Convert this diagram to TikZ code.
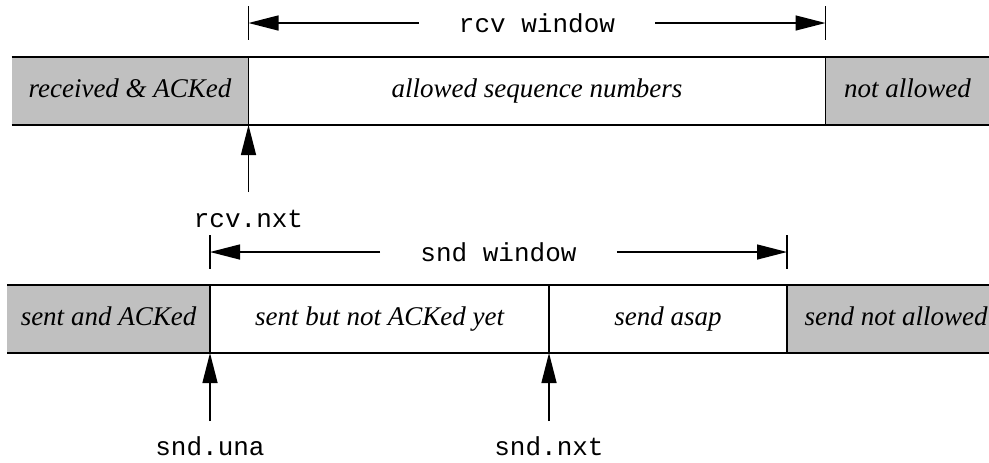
\documentclass[tikz,border=0pt]{standalone}
\usepackage{fontspec}
\setmainfont{Liberation Serif}
\setmonofont{Liberation Mono}
\usetikzlibrary{arrows.meta}
\usetikzlibrary{positioning}
\usetikzlibrary{calc}
\definecolor{acked}{RGB}{192,192,192}
\tikzset{
  cell/.style={minimum height=34pt, inner sep=0pt, outer sep=0pt, text height=0.75em, text depth=0.1em, font=\fontsize{13.5}{16}\selectfont\itshape},
  seen/.style={cell, fill=acked},
  bar/.style={line width=0.8pt},
  span/.style={-{Triangle[length=15pt,width=7.5pt]}, line width=0.7pt},
  seq/.style={font=\fontsize{13}{15}\selectfont\ttfamily},
}

\begin{document}
\begin{tikzpicture}[x=0.5pt, y=-0.5pt]
\useasboundingbox (0,0) rectangle (989,462);
% receiver
\node[seen, minimum width=118.5pt, anchor=west] (recv) at (11.5, 91) {received \& ACKed};
\node[cell, minimum width=288.5pt, right=0pt of recv] (allow) {allowed sequence numbers};
\node[seen, minimum width=82pt, right=0pt of allow] (nallow) {not allowed};
\draw[bar] (recv.north west) -- (nallow.north east) (recv.south west) -- (nallow.south east);
\draw[bar] (recv.north east) -- (recv.south east) (allow.north east) -- (allow.south east);
\path (recv.north east) ++(0,-34) coordinate (rw1);
\path (allow.north east) ++(0,-34) coordinate (rw2);
\draw[bar] (rw1) ++(0,-17) -- ++(0,34);
\draw[bar] (rw2) ++(0,-17) -- ++(0,34);
\node[seq, inner xsep=20pt] (rwin) at ($(rw1)!0.5!(rw2)$) {rcv window};
\draw[span] (rwin.west) -- (rw1);
\draw[span] (rwin.east) -- (rw2);
\path (recv.south east) ++(0,67) coordinate (rnxt);
\node[seq, anchor=base] (rnxtlbl) at ($(recv.south east)+(0,102)$) {rcv.nxt};
\draw[span] (rnxt) -- (recv.south east);
% sender
\node[seen, minimum width=101.5pt, anchor=west] (sack) at (7, 319) {sent and ACKed};
\node[cell, minimum width=169.5pt, right=0pt of sack] (sent) {sent but not ACKed yet};
\node[cell, minimum width=119pt, right=0pt of sent] (asap) {send asap};
\node[seen, minimum width=109pt, right=0pt of asap] (nsend) {send not allowed};
\draw[bar] (sack.north west) -- (nsend.north east) (sack.south west) -- (nsend.south east);
\draw[bar] (sack.north east) -- (sack.south east) (sent.north east) -- (sent.south east) (asap.north east) -- (asap.south east);
\path (sack.north east) ++(0,-33) coordinate (sw1);
\path (asap.north east) ++(0,-33) coordinate (sw2);
\draw[bar] (sw1) ++(0,-17) -- ++(0,34);
\draw[bar] (sw2) ++(0,-17) -- ++(0,34);
\node[seq, inner xsep=20pt] (swin) at ($(sw1)!0.5!(sw2)$) {snd window};
\draw[span] (swin.west) -- (sw1);
\draw[span] (swin.east) -- (sw2);
\path (sack.south east) ++(0,68) coordinate (suna);
\node[seq, anchor=base] (sunalbl) at ($(sack.south east)+(0,102)$) {snd.una};
\draw[span] (suna) -- (sack.south east);
\path (sent.south east) ++(0,68) coordinate (snxt);
\node[seq, anchor=base] (snxtlbl) at ($(sent.south east)+(0,102)$) {snd.nxt};
\draw[span] (snxt) -- (sent.south east);
\end{tikzpicture}
\end{document}
